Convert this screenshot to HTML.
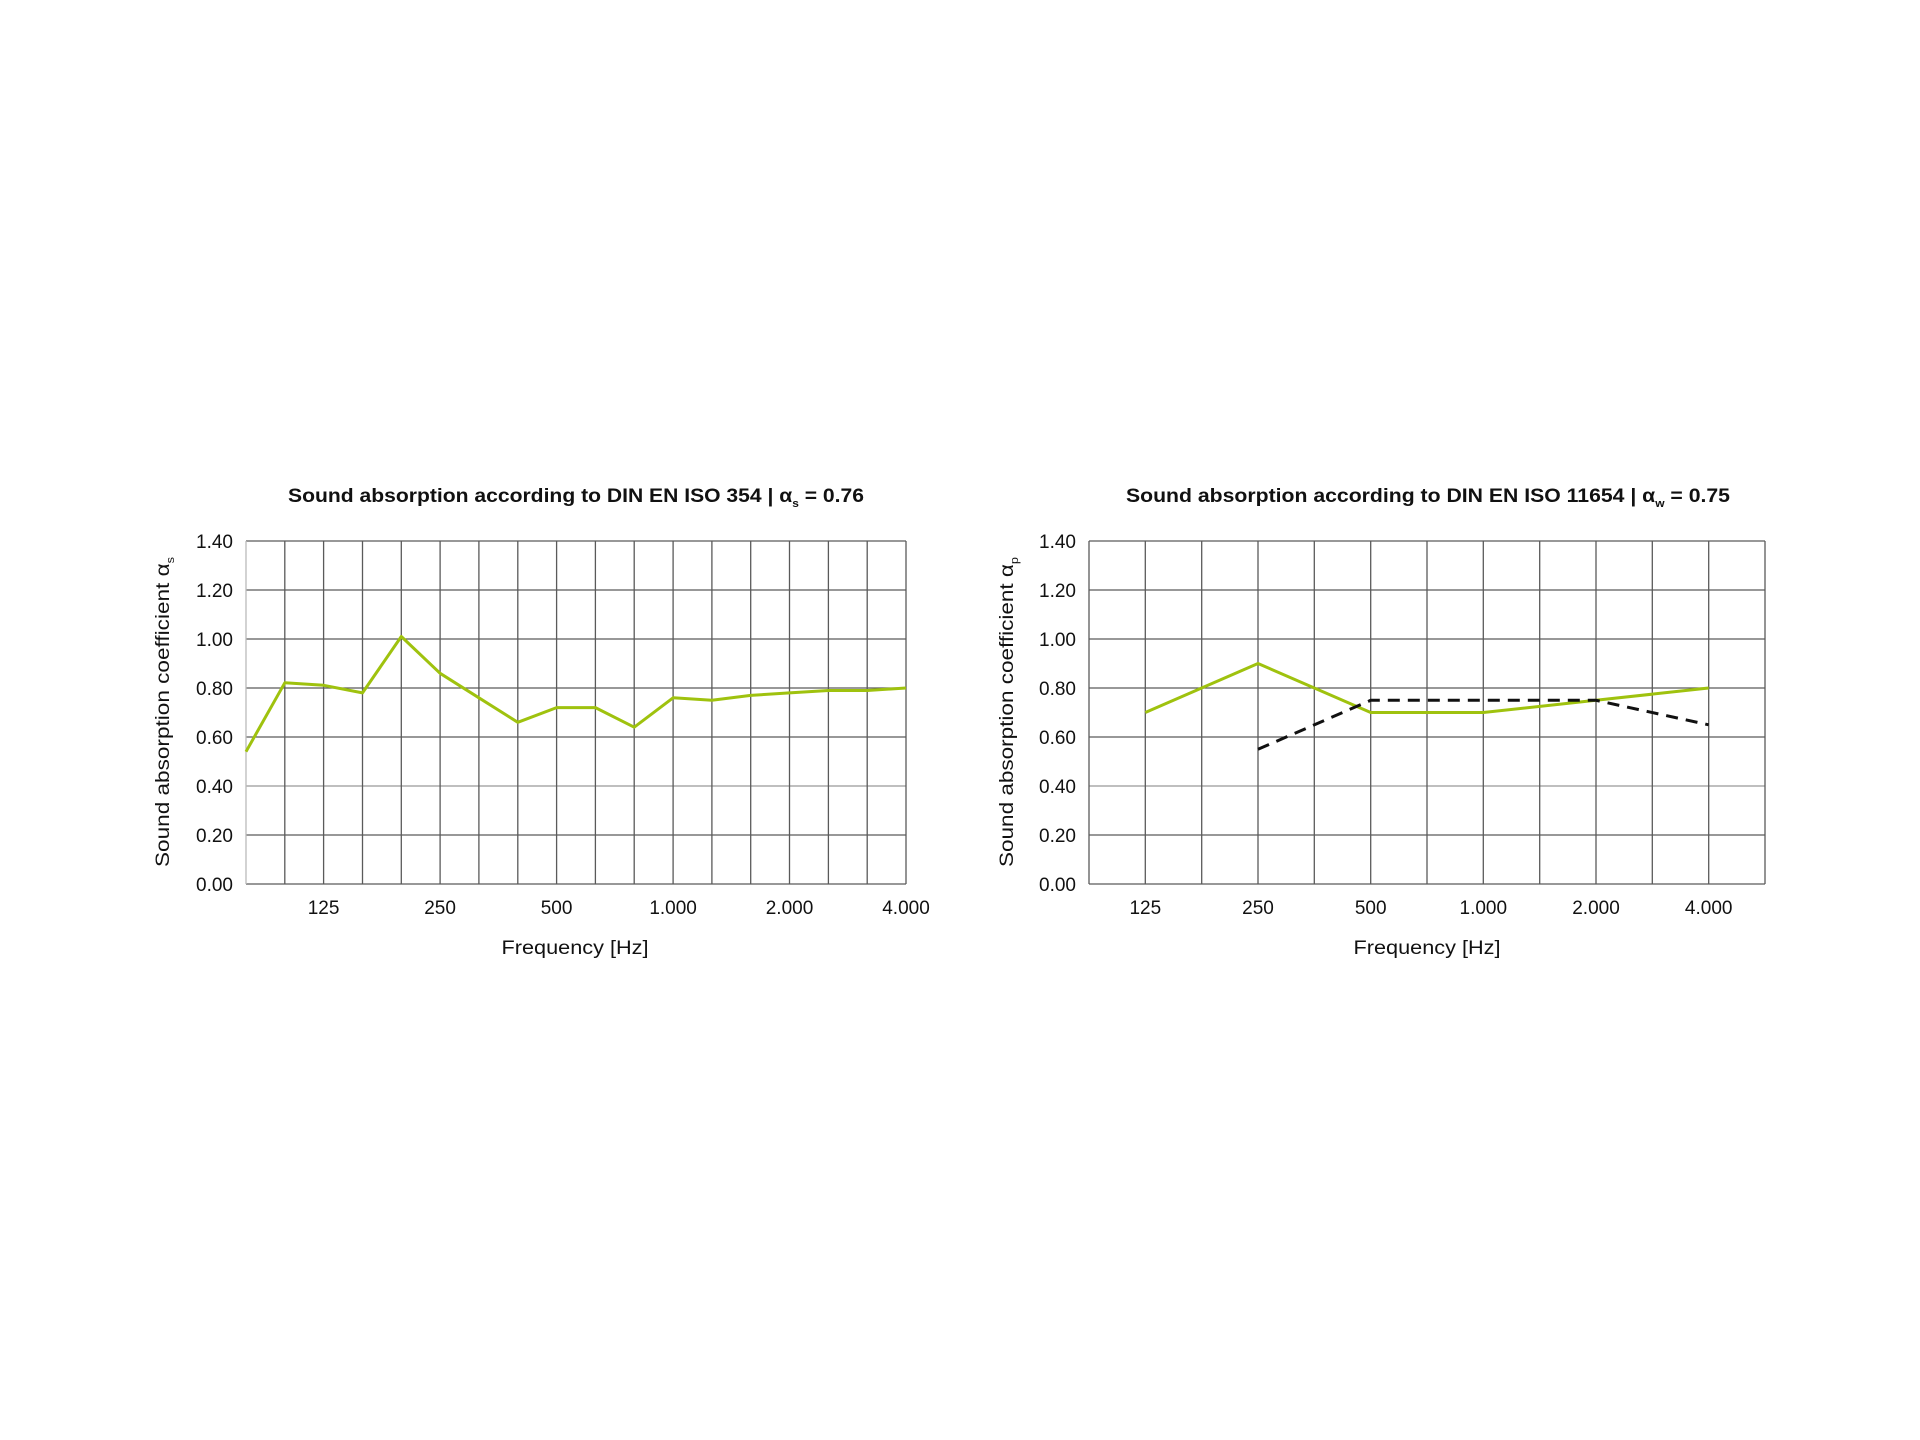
<!DOCTYPE html>
<html><head><meta charset="utf-8"><style>
html,body{margin:0;padding:0;background:#fff;}
svg{display:block;}
text{font-family:"Liberation Sans",sans-serif;fill:#111;}
</style></head><body>
<svg width="1920" height="1440" viewBox="0 0 1920 1440" xmlns="http://www.w3.org/2000/svg">
<rect width="1920" height="1440" fill="#fff"/>
<!-- LEFT CHART -->
<g>
<text x="288" y="502" font-size="19.5" font-weight="bold" textLength="576" lengthAdjust="spacingAndGlyphs">Sound absorption according to DIN EN ISO 354 | α<tspan font-size="11" dy="5">s</tspan><tspan dy="-5"> = 0.76</tspan></text>
<g stroke="#5a5a5a" stroke-width="1.3">
<line x1="246" y1="541" x2="906" y2="541"/><line x1="246" y1="590" x2="906" y2="590"/><line x1="246" y1="639" x2="906" y2="639"/><line x1="246" y1="688" x2="906" y2="688"/><line x1="246" y1="737" x2="906" y2="737"/><line x1="246" y1="786" x2="906" y2="786" stroke="#999"/><line x1="246" y1="835" x2="906" y2="835"/><line x1="246" y1="884" x2="906" y2="884"/>
</g>
<g stroke="#5a5a5a" stroke-width="1.3">
<line x1="246" y1="541" x2="246" y2="884" stroke="#bbb"/>
<line x1="284.8" y1="541" x2="284.8" y2="884"/><line x1="323.6" y1="541" x2="323.6" y2="884"/><line x1="362.5" y1="541" x2="362.5" y2="884"/><line x1="401.3" y1="541" x2="401.3" y2="884"/><line x1="440.1" y1="541" x2="440.1" y2="884"/><line x1="478.9" y1="541" x2="478.9" y2="884"/><line x1="517.8" y1="541" x2="517.8" y2="884"/><line x1="556.6" y1="541" x2="556.6" y2="884"/><line x1="595.4" y1="541" x2="595.4" y2="884"/><line x1="634.2" y1="541" x2="634.2" y2="884"/><line x1="673.1" y1="541" x2="673.1" y2="884"/><line x1="711.9" y1="541" x2="711.9" y2="884"/><line x1="750.7" y1="541" x2="750.7" y2="884"/><line x1="789.5" y1="541" x2="789.5" y2="884"/><line x1="828.4" y1="541" x2="828.4" y2="884"/><line x1="867.2" y1="541" x2="867.2" y2="884"/><line x1="906" y1="541" x2="906" y2="884"/>
</g>
<polyline fill="none" stroke="#9fc20e" stroke-width="3" stroke-linejoin="round" points="246,751.7 284.8,682.8 323.6,685.3 362.5,692.9 401.3,636.5 440.1,673.3 478.9,697.8 517.8,722.3 556.6,707.6 595.4,707.6 634.2,727.2 673.1,697.8 711.9,700.3 750.7,695.4 789.5,692.9 828.4,690.5 867.2,690.5 906,688"/>
<g font-size="19" text-anchor="end">
<text x="233" y="548">1.40</text><text x="233" y="597">1.20</text><text x="233" y="646">1.00</text><text x="233" y="695">0.80</text><text x="233" y="744">0.60</text><text x="233" y="793">0.40</text><text x="233" y="842">0.20</text><text x="233" y="891">0.00</text>
</g>
<g font-size="19" text-anchor="middle">
<text x="323.6" y="914">125</text><text x="440.1" y="914">250</text><text x="556.6" y="914">500</text><text x="673.1" y="914">1.000</text><text x="789.5" y="914">2.000</text><text x="906" y="914">4.000</text>
<text x="575" y="954" textLength="147" lengthAdjust="spacingAndGlyphs">Frequency [Hz]</text>
</g>
<text transform="translate(169,712) rotate(-90)" font-size="19.5" text-anchor="middle" textLength="310" lengthAdjust="spacingAndGlyphs">Sound absorption coefficient α<tspan font-size="11" dy="5">s</tspan></text>
</g>
<!-- RIGHT CHART -->
<g>
<text x="1126" y="502" font-size="19.5" font-weight="bold" textLength="604" lengthAdjust="spacingAndGlyphs">Sound absorption according to DIN EN ISO 11654 | α<tspan font-size="11" dy="5">w</tspan><tspan dy="-5"> = 0.75</tspan></text>
<g stroke="#5a5a5a" stroke-width="1.3">
<line x1="1089" y1="541" x2="1765" y2="541"/><line x1="1089" y1="590" x2="1765" y2="590"/><line x1="1089" y1="639" x2="1765" y2="639"/><line x1="1089" y1="688" x2="1765" y2="688"/><line x1="1089" y1="737" x2="1765" y2="737"/><line x1="1089" y1="786" x2="1765" y2="786" stroke="#999"/><line x1="1089" y1="835" x2="1765" y2="835"/><line x1="1089" y1="884" x2="1765" y2="884"/>
<line x1="1089" y1="541" x2="1089" y2="884"/>
<line x1="1145.3" y1="541" x2="1145.3" y2="884"/><line x1="1201.7" y1="541" x2="1201.7" y2="884"/><line x1="1258" y1="541" x2="1258" y2="884"/><line x1="1314.3" y1="541" x2="1314.3" y2="884"/><line x1="1370.7" y1="541" x2="1370.7" y2="884"/><line x1="1427" y1="541" x2="1427" y2="884"/><line x1="1483.3" y1="541" x2="1483.3" y2="884"/><line x1="1539.7" y1="541" x2="1539.7" y2="884"/><line x1="1596" y1="541" x2="1596" y2="884"/><line x1="1652.3" y1="541" x2="1652.3" y2="884"/><line x1="1708.7" y1="541" x2="1708.7" y2="884"/><line x1="1765" y1="541" x2="1765" y2="884"/>
</g>
<polyline fill="none" stroke="#9fc20e" stroke-width="3" stroke-linejoin="round" points="1145.3,712.5 1258,663.5 1370.7,712.5 1483.3,712.5 1596,700.3 1708.7,688"/>
<polyline fill="none" stroke="#111" stroke-width="3" stroke-dasharray="12,8" points="1258,749.3 1370.7,700.3 1483.3,700.3 1596,700.3 1708.7,724.8"/>
<g font-size="19" text-anchor="end">
<text x="1076" y="548">1.40</text><text x="1076" y="597">1.20</text><text x="1076" y="646">1.00</text><text x="1076" y="695">0.80</text><text x="1076" y="744">0.60</text><text x="1076" y="793">0.40</text><text x="1076" y="842">0.20</text><text x="1076" y="891">0.00</text>
</g>
<g font-size="19" text-anchor="middle">
<text x="1145.3" y="914">125</text><text x="1258" y="914">250</text><text x="1370.7" y="914">500</text><text x="1483.3" y="914">1.000</text><text x="1596" y="914">2.000</text><text x="1708.7" y="914">4.000</text>
<text x="1427" y="954" textLength="147" lengthAdjust="spacingAndGlyphs">Frequency [Hz]</text>
</g>
<text transform="translate(1013,712) rotate(-90)" font-size="19.5" text-anchor="middle" textLength="310" lengthAdjust="spacingAndGlyphs">Sound absorption coefficient α<tspan font-size="11" dy="5">p</tspan></text>
</g>
</svg>
</body></html>
